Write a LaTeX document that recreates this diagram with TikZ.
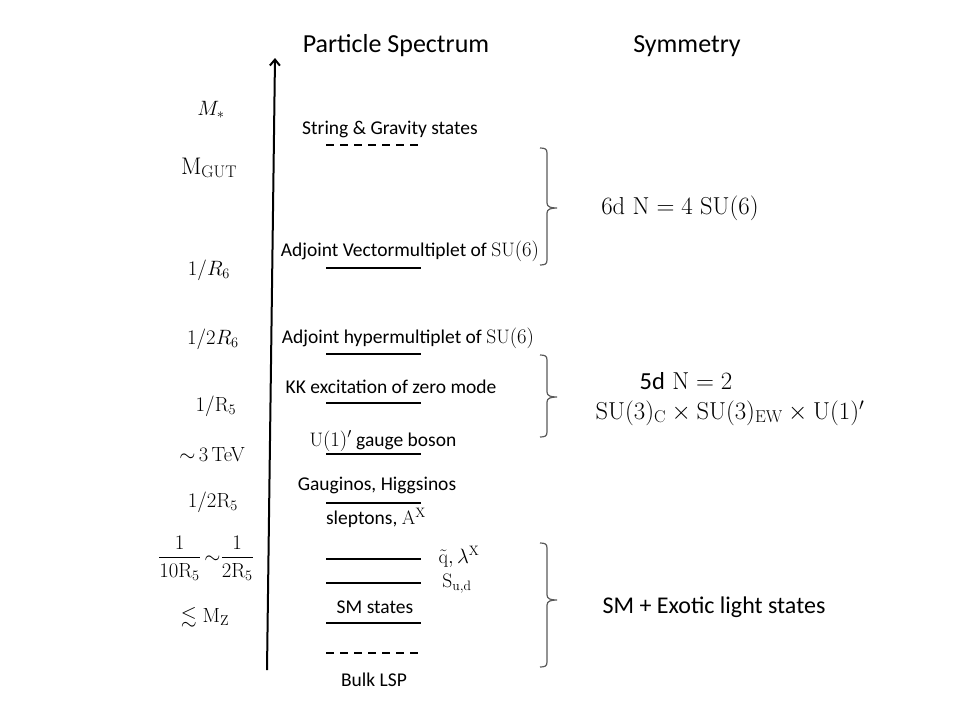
\documentclass[tikz,border=0pt]{standalone}
\usepackage{fontspec}
\usepackage{amsmath,amssymb}
\setsansfont{Carlito}
\usetikzlibrary{arrows.meta}
\newcommand\symbrace[3]{%
  \draw[brc] (540,#1) .. controls (545,#1) and (547,#1+1) .. (547,#1+5) -- (547,#2-5)
    .. controls (547,#2-1) and (551,#2) .. (557,#2)
    .. controls (551,#2) and (547,#2+1) .. (547,#2+5) -- (547,#3-5)
    .. controls (547,#3-1) and (545,#3) .. (540,#3);}
\begin{document}
\begin{tikzpicture}[x=1pt,y=-1pt,
  lab/.style={font=\sffamily\fontsize{19.5}{23}\selectfont, inner sep=0pt},
  ttl/.style={font=\sffamily\fontsize{26}{30}\selectfont, inner sep=0pt},
  mlab/.style={font=\fontsize{20.5}{24}\selectfont, inner sep=0pt},
  sym/.style={font=\fontsize{24.5}{29}\selectfont, inner sep=0pt},
  lvl/.style={line width=2pt},
  dlvl/.style={line width=2pt, dash pattern=on 8pt off 6pt},
  brc/.style={draw=black!65, line width=1.2pt}]
\useasboundingbox (0,0) rectangle (960,720);
% axis
\coordinate (axb) at (267,670);
\coordinate (axt) at (275,58);
\draw[line width=2pt, -{Straight Barb[length=6pt,width=10pt,line width=2pt]}] (axb) -- (axt);
% titles
\node[ttl] (t1) at (396,46) {Particle Spectrum};
\node[ttl] (t2) at (687,46) {Symmetry};
% levels
\draw[dlvl] (326,145) -- (420,145);
\draw[lvl] (326,268) -- (421,268);
\draw[lvl] (326,354) -- (421,354);
\draw[lvl] (326,403) -- (421,403);
\draw[lvl] (326,454) -- (421,454);
\draw[lvl] (326,503) -- (421,503);
\draw[lvl] (326,559) -- (421,559);
\draw[lvl] (326,583) -- (421,583);
\draw[lvl] (326,623) -- (421,623);
\draw[dlvl] (326,653) -- (420,653);
% spectrum labels
\node[lab] (s1) at (390,129) {String \& Gravity states};
\node[lab] (s2) at (410,251) {Adjoint Vectormultiplet of $\mathrm{SU}(6)$};
\node[lab] (s3) at (408,338) {Adjoint hypermultiplet of $\mathrm{SU}(6)$};
\node[lab] (s4) at (391,387) {KK excitation of zero mode};
\node[lab] (s5) at (383,441) {$\mathrm{U}(1)'$ gauge boson};
\node[lab] (s6) at (377,485) {Gauginos, Higgsinos};
\node[lab] (s7) at (376,518) {sleptons, $\mathrm{A}^{\mathrm{X}}$};
\node[lab] (s8) at (459,557) {$\tilde{\mathrm{q}},\lambda^{\mathrm{X}}$};
\node[lab] (s9) at (457,584) {$\mathrm{S}_{\mathrm{u,d}}$};
\node[lab] (s10) at (375,607) {SM states};
\node[lab] (s11) at (374,680) {Bulk LSP};
% scale labels
\node[mlab] (m1) at (211,110) {\fontsize{22}{26}\selectfont$M_*$};
\node[mlab] (m2) at (209,168) {\fontsize{24}{28}\selectfont$\mathrm{M}_{\mathrm{GUT}}$};
\node[mlab] (m3) at (209,270) {$1/R_6$};
\node[mlab] (m4) at (213,339) {$1/2R_6$};
\node[mlab] (m5) at (216,406) {$1/\mathrm{R}_5$};
\node[mlab] (m6) at (212,455) {$\sim$\,3\,TeV};
\node[mlab] (m7) at (213,502) {$1/2\mathrm{R}_5$};
\node[mlab] (m8) at (206,558) {$\dfrac{1}{10\mathrm{R}_5}\,{\sim}\dfrac{1}{2\mathrm{R}_5}$};
\node[mlab] (m9) at (205,617) {$\lesssim \mathrm{M}_{\mathrm{Z}}$};
% braces
\symbrace{148}{208}{265}
\symbrace{355}{397}{437}
\symbrace{543}{600}{667}
% symmetry labels
\node[sym] (y1) at (680,208) {$6\mathrm{d}\ \mathrm{N}=4\ \mathrm{SU}(6)$};
\node[sym] (y2) at (686,381) {{\sffamily 5d} $\mathrm{N}=2$};
\node[sym] (y3) at (730,413) {$\mathrm{SU}(3)_{\mathrm{C}}\times\mathrm{SU}(3)_{\mathrm{EW}}\times\mathrm{U}(1)'$};
\node[sym, font=\sffamily\fontsize{24}{28}\selectfont] (y4) at (714,607) {SM + Exotic light states};
\end{tikzpicture}
\end{document}
